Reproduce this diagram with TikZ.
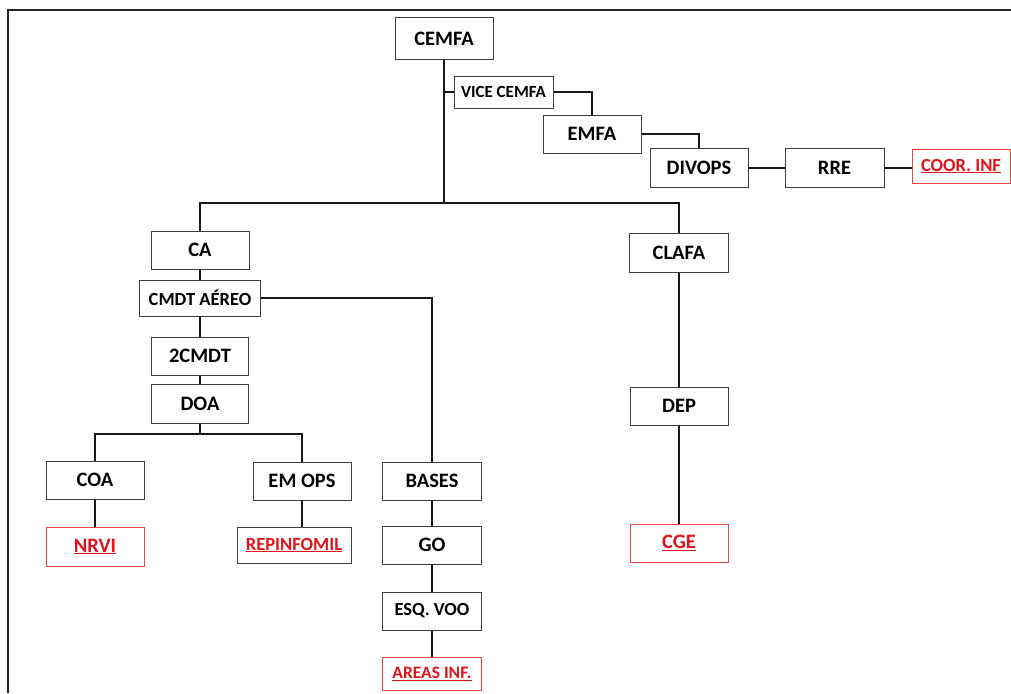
\documentclass[tikz,border=0pt]{standalone}
\usepackage{fontspec}
\setmainfont{Carlito}
\definecolor{redtxt}{HTML}{E2141B}
\definecolor{redbox}{HTML}{E04848}
\begin{document}
\begin{tikzpicture}[x=1pt,y=1pt,
  box/.style={draw=black!75, line width=1pt, fill=white, inner sep=0pt,
    minimum width=98pt, minimum height=38pt,
    font=\bfseries\fontsize{20.5}{24}\selectfont},
  sbox/.style={box, font=\bfseries\fontsize{17}{20}\selectfont},
  mbox/.style={box, font=\bfseries\fontsize{18.5}{22}\selectfont},
  rbox/.style={box, draw=redbox, text=redtxt},
  link/.style={draw=black!90, line width=1.6pt}]
\useasboundingbox (0,0) rectangle (1011,-693);
\draw[line width=2pt, black!85] (8,-693) -- (8,-10) -- (1011,-10);
% top chain
\node[box, minimum height=42pt] (cemfa) at (444,-39) {CEMFA};
\node[sbox, minimum width=99pt, minimum height=32pt] (vice) at (503.5,-92) {VICE CEMFA};
\node[box] (emfa) at (592,-134) {EMFA};
\node[box, minimum height=39pt] (divops) at (699,-168) {DIVOPS};
\node[box, minimum width=99pt, minimum height=39pt] (rre) at (834.5,-168) {RRE};
\node[rbox, font=\bfseries\fontsize{18.5}{22}\selectfont, minimum height=34pt] (coor) at (961,-166) {\underline{COOR. INF}};
% left branch
\node[box] (ca) at (200,-250) {CA};
\node[mbox, minimum width=121pt, minimum height=36pt] (cmdt) at (200,-298) {CMDT AÉREO};
\node[box, minimum width=97pt] (cmdt2) at (200,-356) {2CMDT};
\node[box, minimum width=97pt, minimum height=39pt] (doa) at (200,-403.5) {DOA};
\node[box] (coa) at (95,-480) {COA};
\node[box] (emops) at (302,-481) {EM OPS};
\node[box, minimum width=99pt] (bases) at (432,-481) {BASES};
\node[rbox, minimum height=39pt] (nrvi) at (95,-546.5) {\underline{NRVI}};
\node[mbox, text=redtxt, minimum width=114pt, minimum height=36pt] (repinf) at (294,-545) {\underline{REPINFOMIL}};
\node[box, minimum width=99pt] (go) at (432,-545) {GO};
\node[mbox, minimum width=99pt] (esq) at (432,-611) {ESQ. VOO};
\node[rbox, font=\bfseries\fontsize{17.5}{21}\selectfont, minimum width=99pt, minimum height=33pt] (areas) at (432,-673.5) {\underline{AREAS INF.}};
% right branch
\node[box, minimum width=99pt, minimum height=39pt] (clafa) at (679,-252.5) {CLAFA};
\node[box] (dep) at (679,-406) {DEP};
\node[rbox] (cge) at (679,-543) {\underline{CGE}};
% connectors
\coordinate (j1) at (444,-203);
\coordinate (j2) at (200,-434);
\draw[link] (cemfa.south) -- (j1);
\draw[link] (ca.north) |- (j1) -| (clafa.north);
\draw[link] (vice.west) -- (vice.west -| cemfa.south);
\draw[link] (vice.east) -| (emfa.north);
\draw[link] (emfa.east) -| (divops.north);
\draw[link] (divops) -- (rre);
\draw[link] (rre.east) -- (rre.east -| coor.west);
\draw[link] (ca) -- (cmdt);
\draw[link] (cmdt) -- (cmdt2);
\draw[link] (cmdt2) -- (doa);
\draw[link] (doa.south) -- (j2);
\draw[link] (coa.north) |- (j2) -| (emops.north);
\draw[link] (cmdt.east) -| (bases.north);
\draw[link] (coa) -- (nrvi);
\draw[link] (emops.south) -- (emops.south |- repinf.north);
\draw[link] (bases) -- (go);
\draw[link] (go) -- (esq);
\draw[link] (esq) -- (areas);
\draw[link] (clafa) -- (dep);
\draw[link] (dep) -- (cge);
\end{tikzpicture}
\end{document}
